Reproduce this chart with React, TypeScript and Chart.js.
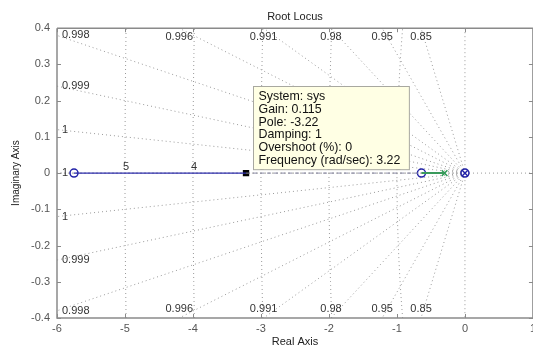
import { useEffect, useRef } from 'react';
import { Chart, registerables } from 'chart.js';

Chart.register(...registerables);

const FONT = "'Liberation Sans', Arial, sans-serif";

// Axis limits and tick steps
const realLimits = [-6, 1];
const imagLimits = [-0.4, 0.4];
const realStep = 1;
const imagStep = 0.1;

// Root locus branches along the real axis: [start, end]
const blueBranch = [-5.75, -3.22];
const dashedBranch = [-3.22, -0.64];
const greenBranch = [-0.64, -0.3];

// Open-loop zeros (o) and poles (x)
const zeroLocations = [-5.75, -0.64, 0];
const poleLocations = [-0.3, 0];
const poleColors = ['#2f9a55', '#2323a8'];

// Selected closed-loop pole and its data tip
const selectedPole = -3.22;
const tipLines = [
  'System: sys',
  'Gain: 0.115',
  'Pole: -3.22',
  'Damping: 1',
  'Overshoot (%): 0',
  'Frequency (rad/sec): 3.22',
];

// s-plane grid: constant damping rays and natural frequency arcs
const dampingRatios = [1, 0.9998, 0.9992, 0.998, 0.9955, 0.991, 0.98, 0.95, 0.85];
const dampingLabels = ['1', '1', '0.999', '0.998', '0.996', '0.991', '0.98', '0.95', '0.85'];
const naturalFreqs = [1, 2, 3, 4, 5];
const freqLabels = ['1', '2', '3', '4', '5'];

const sgridPlugin = {
  id: 'sgrid',
  beforeDatasetsDraw(chart: any) {
    const { ctx, chartArea: a, scales } = chart;
    const x = scales.x;
    const y = scales.y;
    const x0 = x.getPixelForValue(0);
    const y0 = y.getPixelForValue(0);
    const xMin = realLimits[0];
    const yMax = imagLimits[1];

    ctx.save();
    ctx.beginPath();
    ctx.rect(a.left, a.top, a.right - a.left, a.bottom - a.top);
    ctx.clip();
    ctx.strokeStyle = '#9a9a9a';
    ctx.lineWidth = 1;
    ctx.setLineDash([1, 3]);

    const labelSpots: { text: string; px: number; py: number; align: CanvasTextAlign }[] = [];

    dampingRatios.forEach((z, i) => {
      const k = Math.sqrt(Math.max(1 - z * z, 0)) / z;
      const signs = k === 0 ? [1] : [1, -1];
      signs.forEach((s) => {
        let ex = xMin;
        let ey = -xMin * k * s;
        let onSide = true;
        if (Math.abs(ey) > yMax) {
          ey = yMax * s;
          ex = -yMax / k;
          onSide = false;
        }
        const px = x.getPixelForValue(ex);
        const py = y.getPixelForValue(ey);
        ctx.beginPath();
        ctx.moveTo(x0, y0);
        ctx.lineTo(px, py);
        ctx.stroke();
        if (onSide) {
          labelSpots.push({ text: dampingLabels[i], px: a.left + 5, py: Math.min(Math.max(py, a.top + 4), a.bottom - 6), align: 'left' });
        } else {
          labelSpots.push({ text: dampingLabels[i], px, py: s > 0 ? a.top + 9 : a.bottom - 9, align: 'center' });
        }
      });
    });

    naturalFreqs.forEach((w) => {
      ctx.beginPath();
      const n = 80;
      for (let j = 0; j <= n; j++) {
        const yy = -yMax + (2 * yMax * j) / n;
        const xx = -Math.sqrt(Math.max(w * w - yy * yy, 0));
        const px = x.getPixelForValue(xx);
        const py = y.getPixelForValue(yy);
        if (j === 0) ctx.moveTo(px, py);
        else ctx.lineTo(px, py);
      }
      ctx.stroke();
    });

    // real and imaginary axes
    ctx.beginPath();
    ctx.moveTo(a.left, y0);
    ctx.lineTo(a.right, y0);
    ctx.moveTo(x0, a.top);
    ctx.lineTo(x0, a.bottom);
    ctx.stroke();

    ctx.setLineDash([]);
    ctx.fillStyle = '#333';
    ctx.font = `11px ${FONT}`;
    ctx.textBaseline = 'middle';
    labelSpots.forEach((l) => {
      ctx.textAlign = l.align;
      ctx.fillText(l.text, l.px, l.py);
    });

    ctx.textAlign = 'center';
    ctx.textBaseline = 'bottom';
    naturalFreqs.forEach((w, i) => {
      ctx.fillText(freqLabels[i], x.getPixelForValue(-w) + 1, y0 - 1);
    });
    ctx.restore();
  },
  afterDatasetsDraw(chart: any) {
    const { ctx, chartArea: a, scales } = chart;
    const x = scales.x;
    const y = scales.y;

    // axes box with inward ticks
    ctx.save();
    ctx.strokeStyle = '#8a8a8a';
    ctx.lineWidth = 1.5;
    ctx.beginPath();
    ctx.moveTo(a.left, a.top);
    ctx.lineTo(a.right, a.top);
    ctx.moveTo(a.left, a.top);
    ctx.lineTo(a.left, a.bottom);
    ctx.lineTo(a.right, a.bottom);
    ctx.moveTo(a.right, a.top);
    ctx.lineTo(a.right, a.bottom);
    ctx.stroke();
    ctx.lineWidth = 1;
    ctx.beginPath();
    x.ticks.forEach((t: any) => {
      const px = Math.round(x.getPixelForValue(t.value)) + 0.5;
      ctx.moveTo(px, a.bottom);
      ctx.lineTo(px, a.bottom - 4);
      ctx.moveTo(px, a.top);
      ctx.lineTo(px, a.top + 4);
    });
    y.ticks.forEach((t: any) => {
      const py = Math.round(y.getPixelForValue(t.value)) + 0.5;
      ctx.moveTo(a.left, py);
      ctx.lineTo(a.left + 4, py);
      ctx.moveTo(a.right, py);
      ctx.lineTo(a.right - 4, py);
    });
    ctx.stroke();

    // data tip box
    const px = x.getPixelForValue(selectedPole);
    const py = y.getPixelForValue(0);
    ctx.font = `12.4px ${FONT}`;
    const lh = 12.7;
    const w = Math.max(...tipLines.map((s) => ctx.measureText(s).width)) + 14;
    const h = tipLines.length * lh + 7;
    const bx = Math.round(px + 7) + 0.5;
    const by = Math.round(py - 4 - h) + 0.5;
    ctx.fillStyle = '#ffffe4';
    ctx.fillRect(bx, by, w, h);
    ctx.strokeStyle = '#a8a8a0';
    ctx.strokeRect(bx, by, w, h);
    ctx.fillStyle = '#111';
    ctx.textAlign = 'left';
    ctx.textBaseline = 'middle';
    tipLines.forEach((s, i) => {
      ctx.fillText(s, bx + 5, by + 4 + lh * i + lh / 2);
    });
    ctx.restore();
  },
};

const seg = (r: number[]) => r.map((v) => ({ x: v, y: 0 }));

export default function App() {
  const canvasRef = useRef<HTMLCanvasElement | null>(null);

  useEffect(() => {
    document.body.style.margin = '0';
    const canvas = canvasRef.current;
    if (!canvas) return;
    const chart = new Chart(canvas, {
      type: 'scatter',
      data: {
        datasets: [
          {
            data: seg(blueBranch),
            showLine: true,
            borderColor: '#2f2fae',
            borderWidth: 1.3,
            pointRadius: 0,
          },
          {
            data: seg(dashedBranch),
            showLine: true,
            borderColor: '#8c8ca6',
            borderWidth: 1,
            borderDash: [4, 3],
            pointRadius: 0,
          },
          {
            data: seg(greenBranch),
            showLine: true,
            borderColor: '#3a9a5c',
            borderWidth: 2,
            pointRadius: 0,
          },
          {
            data: zeroLocations.map((v) => ({ x: v, y: 0 })),
            showLine: false,
            pointStyle: 'circle',
            pointRadius: 4,
            borderColor: '#2323a8',
            backgroundColor: 'rgba(0,0,0,0)',
            borderWidth: 1.5,
          },
          {
            data: poleLocations.map((v) => ({ x: v, y: 0 })),
            showLine: false,
            pointStyle: 'crossRot',
            pointRadius: 4,
            borderColor: poleColors,
            borderWidth: 1.5,
          },
          {
            data: [{ x: selectedPole, y: 0 }],
            showLine: false,
            pointStyle: 'rect',
            pointRadius: 4.5,
            borderColor: '#000',
            backgroundColor: '#000',
            borderWidth: 0,
          },
        ],
      },
      options: {
        responsive: false,
        animation: false,
        layout: { padding: 0 },
        plugins: {
          legend: { display: false },
          tooltip: { enabled: false },
          title: {
            display: true,
            text: 'Root Locus',
            fullSize: false,
            color: '#222',
            font: { family: FONT, size: 11, weight: 'normal' },
            padding: { top: 10, bottom: 5 },
          },
        },
        scales: {
          x: {
            type: 'linear',
            min: realLimits[0],
            max: realLimits[1],
            grid: { display: false, drawTicks: false },
            border: { display: false },
            ticks: {
              stepSize: realStep,
              padding: 4,
              color: '#555',
              font: { family: FONT, size: 11 },
            },
            title: {
              display: true,
              text: 'Real Axis',
              color: '#222',
              font: { family: FONT, size: 11 },
              padding: { top: 0, bottom: -2 },
            },
            afterFit: (s: any) => {
              s.height = 29;
            },
          },
          y: {
            type: 'linear',
            min: imagLimits[0],
            max: imagLimits[1],
            grid: { display: false, drawTicks: false },
            border: { display: false },
            ticks: {
              stepSize: imagStep,
              padding: 7,
              color: '#555',
              font: { family: FONT, size: 11 },
              callback: (v: any) => String(Number(Number(v).toFixed(1))),
            },
            title: {
              display: true,
              text: 'Imaginary Axis',
              color: '#222',
              font: { family: FONT, size: 10 },
              padding: { top: 10, bottom: 0 },
            },
            afterFit: (s: any) => {
              s.width = 57;
            },
          },
        },
      } as any,
      plugins: [sgridPlugin],
    });
    return () => chart.destroy();
  }, []);

  // The plot frame runs to the right edge of the view, so the canvas is a
  // little wider than its holder and the overflow is hidden.
  return (
    <div style={{ width: 533, height: 347, overflow: 'hidden', background: '#fff' }}>
      <canvas ref={canvasRef} width={540} height={347} />
    </div>
  );
}
